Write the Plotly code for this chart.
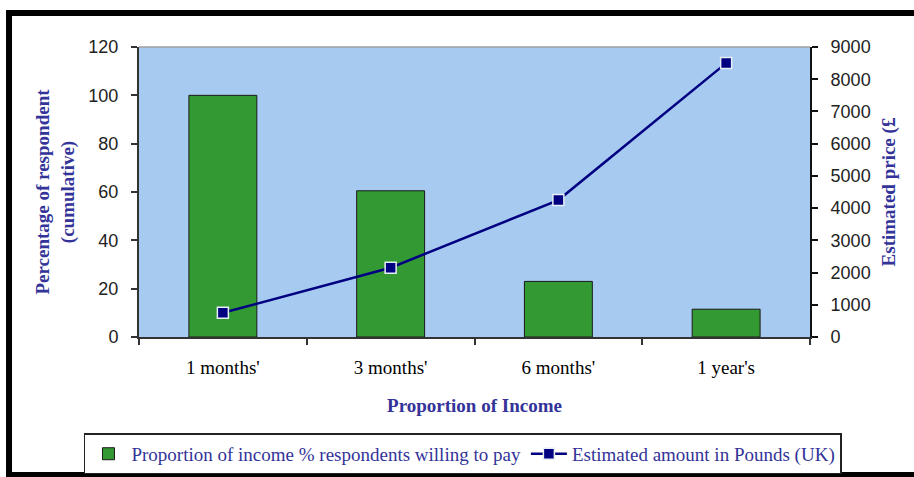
import plotly.graph_objects as go

# Data
categories = ["1 months'", "3 months'", "6 months'", "1 year's"]
respondents_pct = [100, 60.5, 23, 11.5]
estimated_pounds = [750, 2150, 4250, 8500]
left_ticks = [0, 20, 40, 60, 80, 100, 120]
right_ticks = [0, 1000, 2000, 3000, 4000, 5000, 6000, 7000, 8000, 9000]
boundary_ticks = [-0.5, 0.5, 1.5, 2.5, 3.5]

SERIF = "Liberation Serif, Times New Roman, serif"
SANS = "Liberation Sans, Arial, sans-serif"
TITLE_BLUE = "#333399"
AXIS_DARK = "#333333"

fig = go.Figure()

fig.add_bar(
    x=categories,
    y=respondents_pct,
    name="Proportion of income % respondents willing to pay",
    marker=dict(color="#339933", line=dict(color="#1a1a1a", width=1)),
    yaxis="y",
)

fig.add_scatter(
    x=categories,
    y=estimated_pounds,
    name="Estimated amount in Pounds (UK)",
    mode="lines+markers",
    line=dict(color="#000080", width=2.5),
    marker=dict(symbol="square", size=11, color="#000080",
                line=dict(color="#E6EEF6", width=1.5)),
    yaxis="y2",
)

fig.update_layout(
    width=914,
    height=477,
    margin=dict(l=139, r=104, t=47, b=140, autoexpand=False),
    paper_bgcolor="white",
    plot_bgcolor="#A6CAF0",
    bargap=0.595,
    showlegend=True,
    legend=dict(
        orientation="h",
        x=-0.082, xanchor="left",
        y=-0.403, yanchor="middle",
        bgcolor="white",
        bordercolor="#222222",
        borderwidth=1.5,
        font=dict(family=SERIF, size=19, color=TITLE_BLUE),
        itemwidth=36,
        tracegroupgap=0,
    ),
    xaxis=dict(
        type="category",
        categoryorder="array",
        categoryarray=categories,
        tickson="boundaries",
        ticks="outside",
        ticklen=6,
        tickwidth=1.5,
        tickcolor=AXIS_DARK,
        showline=True,
        linecolor=AXIS_DARK,
        linewidth=2,
        showgrid=False,
        tickfont=dict(family=SERIF, size=19, color="black"),
        ticklabelstandoff=12,
        title=dict(text="<b>Proportion of Income</b>",
                   font=dict(family=SERIF, size=19, color=TITLE_BLUE),
                   standoff=22),
    ),
    xaxis2=dict(
        overlaying="x",
        anchor="y",
        side="bottom",
        range=[-0.5, 3.5],
        tickvals=boundary_ticks,
        ticks="inside",
        ticklen=6,
        tickwidth=1.5,
        tickcolor=AXIS_DARK,
        showticklabels=False,
        showgrid=False,
        zeroline=False,
        showline=False,
    ),
    yaxis=dict(
        range=[0, 120],
        tickvals=left_ticks,
        ticks="outside",
        ticklen=6,
        tickwidth=1.5,
        tickcolor=AXIS_DARK,
        showline=True,
        linecolor=AXIS_DARK,
        linewidth=2,
        showgrid=False,
        zeroline=False,
        tickfont=dict(family=SANS, size=18, color="#222222"),
        ticklabelstandoff=9,
        title=dict(text="<b>Percentage of respondent<br>(cumulative)</b>",
                   font=dict(family=SERIF, size=19, color=TITLE_BLUE),
                   standoff=9),
    ),
    yaxis3=dict(
        overlaying="y",
        anchor="x",
        side="left",
        range=[0, 120],
        tickvals=left_ticks,
        ticks="inside",
        ticklen=5,
        tickwidth=1.5,
        tickcolor=AXIS_DARK,
        showticklabels=False,
        showgrid=False,
        zeroline=False,
    ),
    yaxis2=dict(
        overlaying="y",
        anchor="x",
        side="right",
        range=[0, 9000],
        tickvals=right_ticks,
        ticks="outside",
        ticklen=6,
        tickwidth=1.5,
        tickcolor="#111111",
        showline=True,
        linecolor="#111111",
        linewidth=2,
        showgrid=False,
        zeroline=False,
        tickfont=dict(family=SANS, size=18, color="#222222"),
        ticklabelstandoff=9,
        title=dict(text="<b>Estimated price (£</b>",
                   font=dict(family=SERIF, size=19, color=TITLE_BLUE),
                   standoff=12),
    ),
    yaxis4=dict(
        overlaying="y",
        anchor="x",
        side="right",
        range=[0, 9000],
        tickvals=right_ticks,
        ticks="inside",
        ticklen=5,
        tickwidth=1.5,
        tickcolor="#111111",
        showticklabels=False,
        showgrid=False,
        zeroline=False,
    ),
    shapes=[
        # light frame line along the top of the plotting area
        dict(type="line", xref="paper", yref="paper", x0=0, x1=1, y0=1, y1=1,
             line=dict(color="#A0A0A0", width=1.5)),
        # heavy black frame around the chart
        dict(type="rect", xref="paper", yref="paper",
             x0=-0.1937, x1=1.164, y0=-0.4759, y1=1.1172,
             line=dict(color="black", width=6), fillcolor="rgba(0,0,0,0)",
             layer="above"),
    ],
)

fig.write_html("out.html")
